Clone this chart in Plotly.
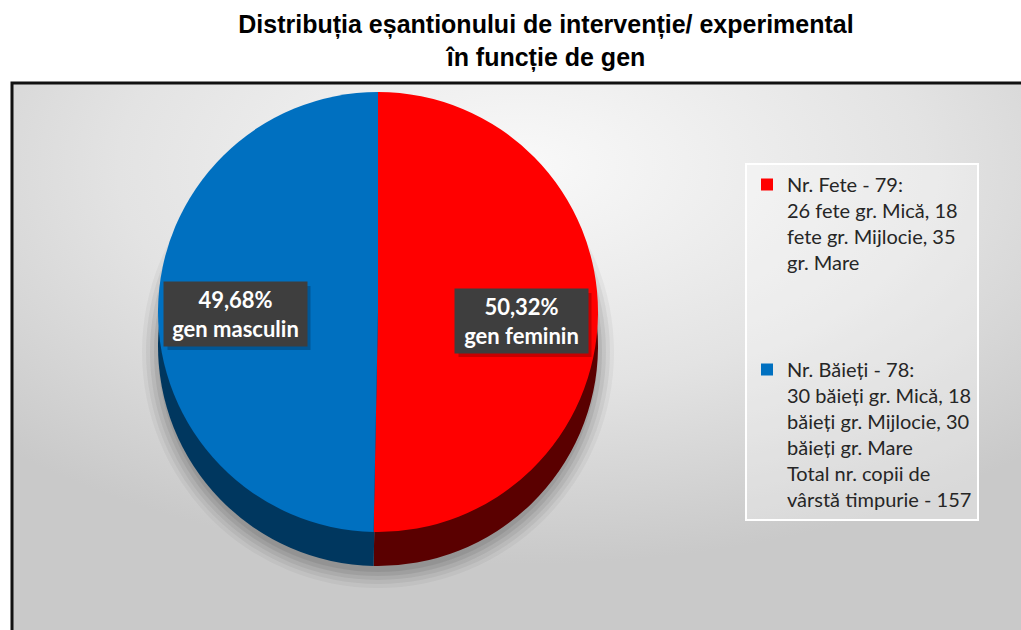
import base64
import plotly.graph_objects as go

W, H = 1021, 630

# ---- data ----
legend_heads = ["Nr. Fete - 79:", "Nr. Băieți - 78:"]
legend_details = [
    ["26 fete gr. Mică, 18", "fete gr. Mijlocie, 35", "gr. Mare"],
    ["30 băieți gr. Mică, 18", "băieți gr. Mijlocie, 30", "băieți gr. Mare",
     "Total nr. copii de", "vârstă timpurie - 157"],
]
values = [79, 78]
gender_labels = ["gen feminin", "gen masculin"]

# ---- styles ----
top_colors = ["#ff0000", "#0070c0"]
side_colors = ["#5a0000", "#00375f"]
pad_lines = [3, 0]

legend_labels = []
for head, det, pad in zip(legend_heads, legend_details, pad_lines):
    legend_labels.append("<br>".join([head] + det + ["&nbsp;"] * pad))

total = sum(values)
pct_text = [f"{v / total * 100:.2f}".replace(".", ",") + "%" for v in values]

cx, cy, r, depth = 378, 312, 220, 34


def dom(x, y, rad):
    return dict(x=[(x - rad) / W, (x + rad) / W], y=[1 - (y + rad) / H, 1 - (y - rad) / H])


fig = go.Figure()
# side (depth) of the disc
fig.add_trace(go.Pie(
    labels=legend_labels, values=values, sort=False, direction="clockwise", rotation=0,
    marker=dict(colors=side_colors, line=dict(width=0)), textinfo="none",
    hoverinfo="skip", showlegend=False, domain=dom(cx, cy + depth, r),
))
# top face
fig.add_trace(go.Pie(
    labels=legend_labels, values=values, sort=False, direction="clockwise", rotation=0,
    marker=dict(colors=top_colors, line=dict(width=0)), textinfo="none",
    hoverinfo="label+value", showlegend=True, domain=dom(cx, cy, r),
))

# background gradient as SVG image
svg = ('<svg xmlns="http://www.w3.org/2000/svg" width="1010" height="550">'
       '<defs><radialGradient id="g" cx="0.5" cy="0.15" r="0.72">'
       '<stop offset="0" stop-color="#f9f9f9"/><stop offset="0.55" stop-color="#e3e3e3"/>'
       '<stop offset="1" stop-color="#c9c9c9"/></radialGradient></defs>'
       '<rect width="100%" height="100%" fill="url(#g)"/></svg>')
src = "data:image/svg+xml;base64," + base64.b64encode(svg.encode()).decode()

shapes = []
# soft shadow under the pie
for i, a in enumerate([0.04, 0.05, 0.06, 0.07, 0.07]):
    rr = r + 16 - i * 4
    yy = cy + depth + 6
    shapes.append(dict(type="circle", xref="paper", yref="paper", layer="below",
                       x0=(cx - rr) / W, x1=(cx + rr) / W,
                       y0=1 - (yy + rr) / H, y1=1 - (yy - rr) / H,
                       fillcolor=f"rgba(0,0,0,{a})", line=dict(width=0)))
# frame
shapes.append(dict(type="rect", xref="paper", yref="paper", layer="above",
                   x0=12 / W, x1=1.02, y0=-0.02, y1=1 - 83 / H,
                   line=dict(color="#111111", width=3), fillcolor="rgba(0,0,0,0)"))

annotations = []
label_pos = [(521, 321), (235, 314)]
box_w = [125, 135]
box_h = 56
pad = 4
for (ax, ay), p, g, bw in zip(label_pos, pct_text, gender_labels, box_w):
    # drop shadow of the label box
    hw, hh = bw / 2 + pad, box_h / 2 + pad
    shapes.append(dict(type="rect", xref="paper", yref="paper", layer="above",
                       x0=(ax - hw + 4) / W, x1=(ax + hw + 4) / W,
                       y0=1 - (ay + hh + 4) / H, y1=1 - (ay - hh + 4) / H,
                       fillcolor="rgba(0,0,0,0.22)", line=dict(width=0)))
    annotations.append(dict(
        x=ax / W, y=1 - ay / H, xref="paper", yref="paper", showarrow=False,
        xanchor="center", yanchor="middle", align="center",
        width=bw, height=box_h, borderpad=pad,
        text=f"<b>{p}<br>{g}</b>",
        font=dict(family="Lato, sans-serif", size=22, color="white"),
        bgcolor="#3e3e3e"))

fig.update_layout(
    width=W, height=H,
    margin=dict(l=0, r=0, t=0, b=0),
    paper_bgcolor="white", plot_bgcolor="white",
    title=dict(
        text="<b>Distribuția eșantionului de intervenție/ experimental<br>în funcție de gen</b>",
        x=546 / W, xanchor="center", y=1 - 33 / H, yanchor="middle",
        font=dict(family="'Liberation Sans', Arial, sans-serif", size=25, color="black"),
    ),
    legend=dict(
        x=745 / W, y=1 - 163 / H, xanchor="left", yanchor="top",
        bgcolor="rgba(255,255,255,0.3)", bordercolor="#ffffff", borderwidth=2,
        font=dict(family="Lato, sans-serif", size=20, color="#262626"),
        valign="top", traceorder="normal", itemwidth=30,
    ),
    images=[dict(source=src, xref="paper", yref="paper", x=12 / W, y=1 - 83 / H,
                 sizex=1 - 12 / W + 0.01, sizey=1 - 83 / H + 0.01,
                 xanchor="left", yanchor="top", sizing="stretch", layer="below")],
    shapes=shapes,
    annotations=annotations,
)

fig.write_html("out.html", config={"displayModeBar": False},
               post_script="document.body.style.margin='0';")
